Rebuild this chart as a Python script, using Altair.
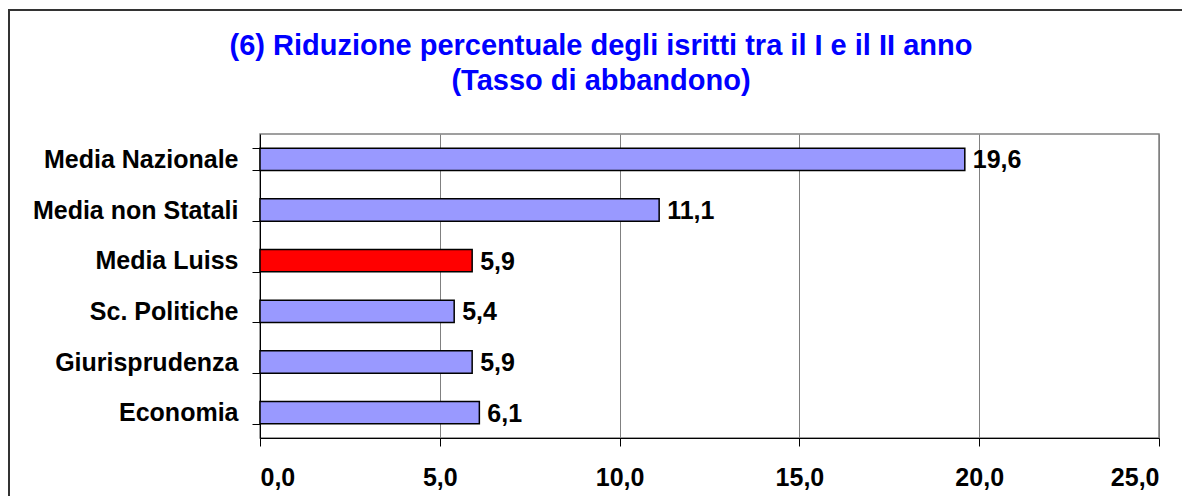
import altair as alt
import pandas as pd

categories = ["Media Nazionale", "Media non Statali", "Media Luiss", "Sc. Politiche", "Giurisprudenza", "Economia"]
values = [19.6, 11.1, 5.9, 5.4, 5.9, 6.1]
colors = ["#9999FF", "#9999FF", "#FF0000", "#9999FF", "#9999FF", "#9999FF"]
x_ticks = [0, 5, 10, 15, 20, 25]
title_lines = ["(6) Riduzione percentuale degli isritti tra il I e il II anno", "(Tasso di abbandono)"]

df = pd.DataFrame({"cat": categories, "val": values, "col": colors})
df["lab"] = [f"{v:.1f}".replace(".", ",") for v in values]

FONT = "Liberation Sans"
W, H = 899, 304

y_enc = alt.Y("cat:N", sort=categories, scale=alt.Scale(paddingInner=0.56, paddingOuter=0.28),
              axis=alt.Axis(title=None, labelFont=FONT, labelFontSize=25, labelFontWeight="bold",
                            labelColor="black", labelPadding=14, tickBand="extent", tickSize=8,
                            tickColor="black", domainColor="black", grid=False, labelLimit=400))
x_enc = alt.X("val:Q", scale=alt.Scale(domain=[0, 25], nice=False),
              axis=alt.Axis(title=None, values=x_ticks, labelFont=FONT, labelFontSize=25,
                            labelFontWeight="bold", labelColor="black", labelPadding=19,
                            tickSize=8, tickColor="black", domainColor="black",
                            grid=True, gridColor="#808080", gridWidth=1,
                            labelExpr="replace(format(datum.value, '.1f'), '.', ',')"))

bars = alt.Chart(df).mark_bar(stroke="black", strokeWidth=1.5).encode(
    x=x_enc, y=y_enc, fill=alt.Fill("col:N", scale=None)
)
texts = alt.Chart(df).mark_text(align="left", baseline="middle", dx=8, dy=1, font=FONT,
                                fontSize=25, fontWeight="bold", color="black").encode(
    x="val:Q", y=alt.Y("cat:N", sort=categories), text="lab:N"
)
frame = alt.Chart(df.head(1)).mark_rect(fill=None, stroke="#333333", strokeWidth=2).encode(
    x=alt.value(-251), x2=alt.value(960), y=alt.value(-124), y2=alt.value(420)
)
title_layers = []
for i, line in enumerate(title_lines):
    title_layers.append(
        alt.Chart(pd.DataFrame({"t": [line]})).mark_text(
            font=FONT, fontSize=29, fontWeight="bold", color="#0000FF",
            align="center", baseline="middle"
        ).encode(text="t:N", x=alt.value(341), y=alt.value(-88 + 35 * i))
    )

chart = alt.layer(frame, bars, texts, *title_layers).properties(
    width=W, height=H,
    padding={"left": 252, "top": 126, "right": 23, "bottom": 58},
    autosize=alt.AutoSizeParams(type="none"),
).configure_view(stroke="#808080", strokeWidth=1.5)

chart.save("out.html", embed_options={"renderer": "svg", "actions": False})
